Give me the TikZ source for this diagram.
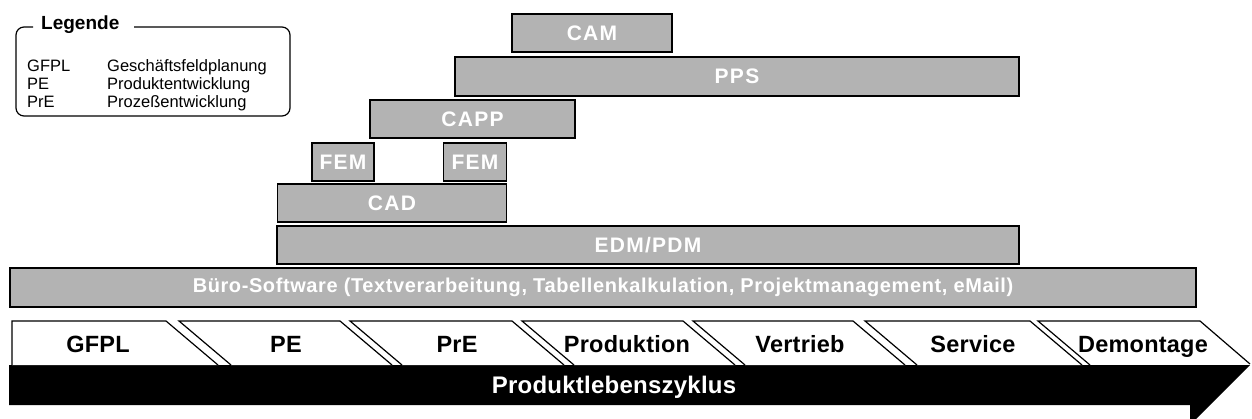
\documentclass[tikz,border=0pt]{standalone}
\usepackage{fontspec}
\setmainfont{Liberation Sans}
\newfontfamily\barfont[LetterSpace=6]{Liberation Sans}
\newfontfamily\buerofont[LetterSpace=3]{Liberation Sans}
\newfontfamily\phasefont[LetterSpace=1]{Liberation Sans}
\begin{document}
\begin{tikzpicture}[x=1pt,y=-1pt,
  bar/.style={draw=black, line width=1.5pt, fill=barfill, text=white,
    font=\barfont\fontsize{21}{23}\selectfont\bfseries, inner sep=0pt, anchor=center},
  phase/.style={draw=black, line width=1.2pt, fill=white},
  phaselabel/.style={font=\phasefont\fontsize{23.5}{25}\selectfont\bfseries, inner sep=0pt, anchor=base},
  legtext/.style={font=\fontsize{16.5}{18}\selectfont, inner sep=0pt, anchor=base west}]
\definecolor{barfill}{RGB}{179,179,179}
\useasboundingbox (0,0) rectangle (1252,419);
% bars
\node[bar, minimum width=160pt, minimum height=38pt] (cam) at (592,33) {CAM};
\node[bar, minimum width=564pt, minimum height=39pt] (pps) at (737,76.5) {PPS};
\node[bar, minimum width=205pt, minimum height=38pt] (capp) at (472.5,119) {CAPP};
\node[bar, minimum width=62pt, minimum height=38pt] (fema) at (343,162) {FEM};
\node[bar, minimum width=63pt, minimum height=38pt] (femb) at (475,162) {FEM};
\node[bar, minimum width=229pt, minimum height=38pt] (cad) at (392,203) {CAD};
\node[bar, minimum width=742pt, minimum height=38pt] (edm) at (648,245) {EDM/PDM};
\node[bar, minimum width=1186pt, minimum height=39pt, font=\buerofont\fontsize{20}{22}\selectfont\bfseries] (buero) at (603,287.5) {Büro-Software (Textverarbeitung, Tabellenkalkulation, Projektmanagement, eMail)};
% black arrow
\fill[black] (9,365) -- (1250,365) -- (1190,425) -- (1190,405) -- (9,405) -- cycle;
\node[text=white, font=\phasefont\fontsize{24}{26}\selectfont\bfseries, inner sep=0pt, anchor=base] (plz) at (614,393) {Produktlebenszyklus};
% phases
\draw[phase] (12,365) -- (12,321) -- (166,321) -- (218,365);
\draw[phase] (231,365) -- (179,321) -- (340,321) -- (392,365);
\draw[phase] (402,365) -- (350,321) -- (512,321) -- (564,365);
\draw[phase] (574,365) -- (522,321) -- (683,321) -- (735,365);
\draw[phase] (745,365) -- (693,321) -- (853,321) -- (905,365);
\draw[phase] (917,365) -- (865,321) -- (1030,321) -- (1082,365);
\draw[phase] (1090,365) -- (1038,321) -- (1200,321) -- (1250,364);
\node[phaselabel] (gfpl) at (98,352.5) {GFPL};
\node[phaselabel] (pe) at (286,352.5) {PE};
\node[phaselabel] (pre) at (457,352.5) {PrE};
\node[phaselabel] (prod) at (627,352.5) {Produktion};
\node[phaselabel] (vertrieb) at (800,352.5) {Vertrieb};
\node[phaselabel] (service) at (973,352.5) {Service};
\node[phaselabel] (demontage) at (1143,352.5) {Demontage};
% legend
\draw[line width=1.2pt, rounded corners=8pt] (33,27) -- (16,27) -- (16,116) -- (290,116) -- (290,27) -- (134,27);
\node[font=\fontsize{19}{21}\selectfont\bfseries, inner sep=0pt, anchor=base west] (legende) at (41,30) {Legende};
\node[legtext] (k1) at (27,71.5) {GFPL};
\node[legtext] (k2) at (27,89.5) {PE};
\node[legtext] (k3) at (27,107.5) {PrE};
\node[legtext] (v1) at (107,71.5) {Geschäftsfeldplanung};
\node[legtext] (v2) at (107,89.5) {Produktentwicklung};
\node[legtext] (v3) at (107,107.5) {Prozeßentwicklung};
\end{tikzpicture}
\end{document}
